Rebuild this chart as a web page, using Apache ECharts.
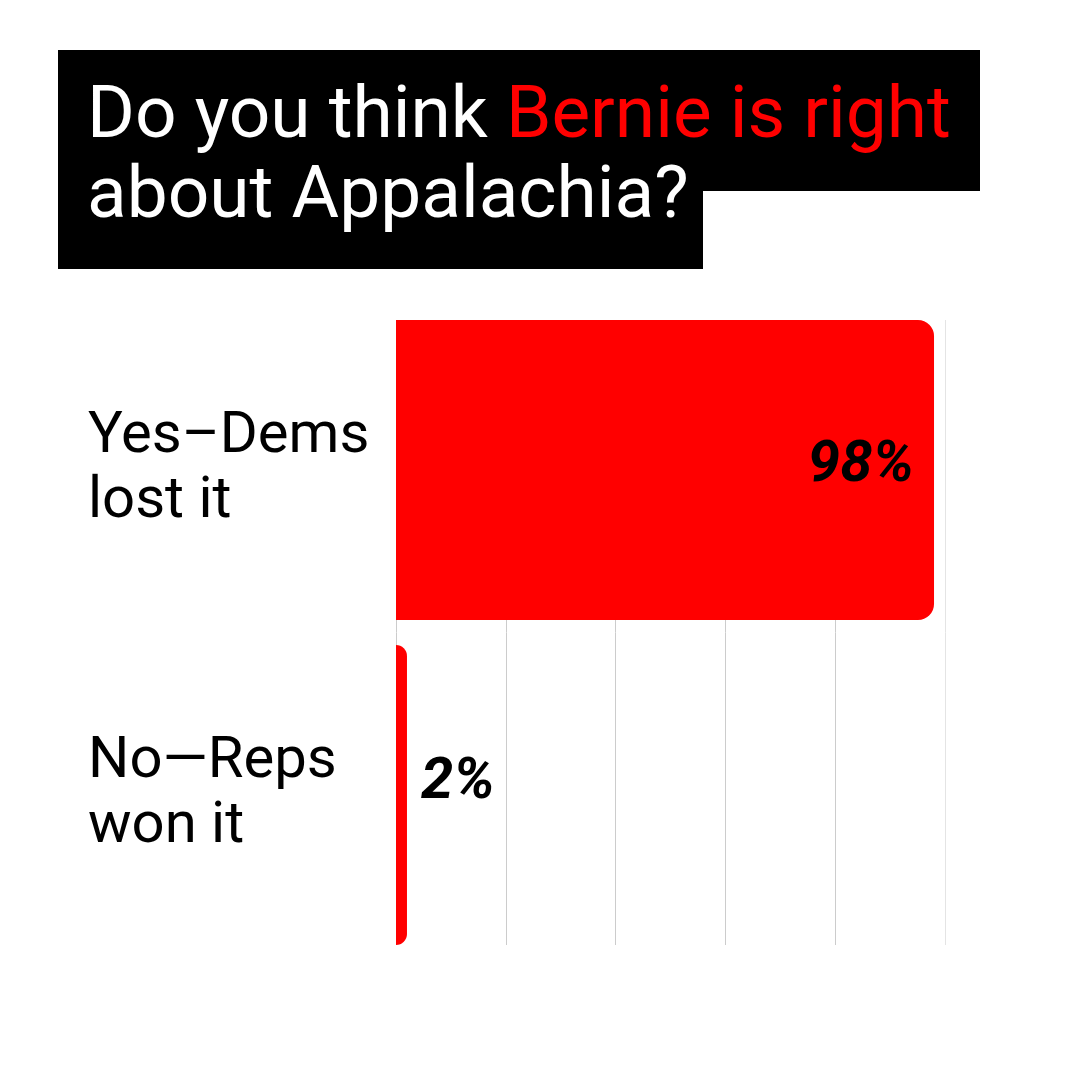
<!DOCTYPE html>
<html>
<head>
<meta charset="utf-8">
<script src="https://cdn.jsdelivr.net/npm/echarts@6/dist/echarts.min.js"></script>
<style>
  html, body { margin: 0; padding: 0; background: #ffffff; }
  #chart { width: 1080px; height: 1080px; }
</style>
</head>
<body>
<div id="chart"></div>
<script>
// ---- data ----
const titleLine1Plain = 'Do you think ';
const titleLine1Red = 'Bernie is right';
const titleLine2 = 'about Appalachia?';
const categories = ['Yes\u2013Dems\nlost it', 'No\u2014Reps\nwon it'];
const values = [98, 2];
const xMin = 0;
const xMax = 100;
const xInterval = 20;

// ---- styles ----
const FONT = 'Roboto';
const RED = '#ff0000';

const chart = echarts.init(document.getElementById('chart'), null, { renderer: 'canvas' });

const labelOffsets = [[0, -4], [0, -12]];
const barData = values.map((v, i) => ({
  value: v,
  label: i === 0
    ? { position: 'insideRight', distance: 20, offset: labelOffsets[i] }
    : { position: 'right', distance: 14, offset: labelOffsets[i] }
}));

const option = {
  backgroundColor: '#ffffff',
  animation: false,
  graphic: [
    { type: 'rect', z: 0, shape: { x: 58, y: 50, width: 922, height: 141 }, style: { fill: '#000000' } },
    { type: 'rect', z: 0, shape: { x: 58, y: 190, width: 645, height: 79 }, style: { fill: '#000000' } },
    {
      type: 'text', z: 1, x: 87, y: 119,
      style: {
        text: titleLine1Plain + '{r|' + titleLine1Red + '}',
        fill: '#ffffff', fontSize: 73, fontFamily: FONT, verticalAlign: 'middle',
        rich: { r: { fill: RED, fontSize: 73, fontFamily: FONT } }
      }
    },
    {
      type: 'text', z: 1, x: 87, y: 199,
      style: { text: titleLine2, fill: '#ffffff', fontSize: 73, fontFamily: FONT, verticalAlign: 'middle' }
    }
  ],
  grid: [
    { left: 396, right: 135, top: 307.5, bottom: 122.5, containLabel: false },
    { left: 396, right: 135, top: 320, bottom: 135, containLabel: false }
  ],
  xAxis: [
    {
      gridIndex: 0, type: 'value', min: xMin, max: xMax, interval: xInterval,
      axisLine: { show: false }, axisTick: { show: false }, axisLabel: { show: false },
      splitLine: { show: false }
    },
    {
      gridIndex: 1, type: 'value', min: xMin, max: xMax, interval: xInterval,
      axisLine: { show: false }, axisTick: { show: false }, axisLabel: { show: false },
      splitLine: { show: true, lineStyle: { color: ['#cccccc', '#cccccc', '#cccccc', '#cccccc', '#cccccc', '#e4e4e4'], width: 1 } }
    }
  ],
  yAxis: [
    {
      gridIndex: 0, type: 'category', data: categories, inverse: true,
      axisLine: { show: false }, axisTick: { show: false }, splitLine: { show: false },
      axisLabel: {
        show: true, align: 'left', margin: 308,
        fontFamily: FONT, fontSize: 58, lineHeight: 65, color: '#000000',
        padding: [0, 0, 22, 0]
      }
    },
    { gridIndex: 1, type: 'value', show: false, min: 0, max: 1 }
  ],
  series: [
    {
      type: 'bar', xAxisIndex: 0, yAxisIndex: 0,
      data: barData,
      barWidth: 300,
      itemStyle: { color: RED, borderRadius: [0, 16, 16, 0] },
      label: {
        show: true, formatter: '{c}%', color: '#000000',
        fontFamily: FONT, fontSize: 58, fontWeight: 'bold', fontStyle: 'italic'
      },
      z: 2
    }
  ]
};

chart.setOption(option);
</script>
</body>
</html>
